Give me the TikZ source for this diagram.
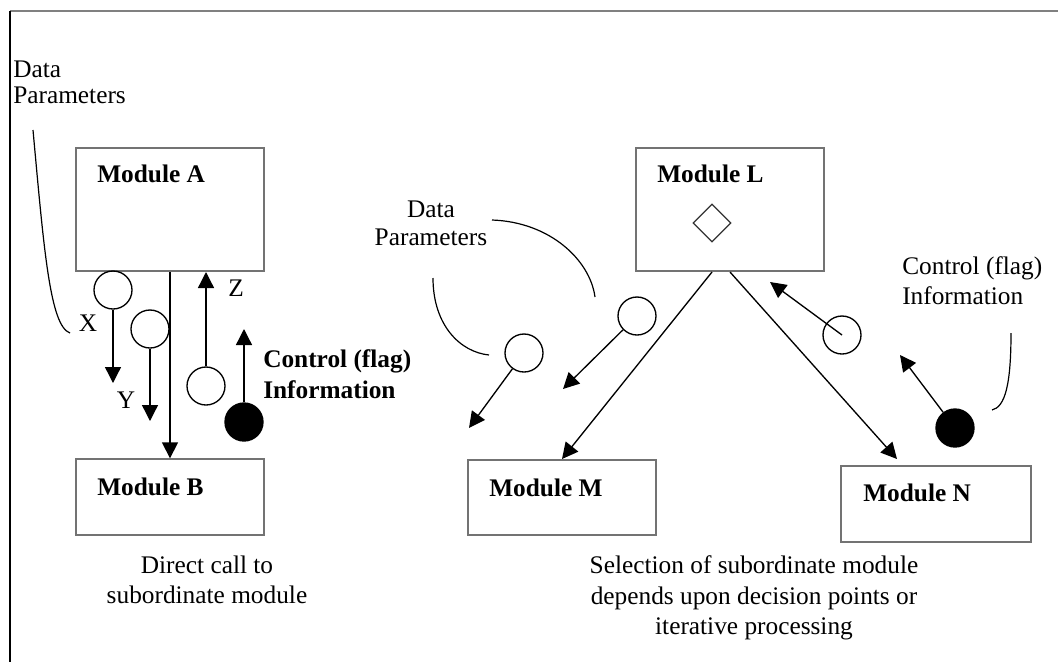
\documentclass[tikz,border=0pt]{standalone}
\usepackage{fontspec}
\setmainfont{Liberation Serif}
\usetikzlibrary{arrows.meta,shapes.geometric}
\begin{document}
\begin{tikzpicture}[x=0.75pt,y=-0.75pt,
  box/.style={draw=black!55, line width=1.5pt, rectangle, inner sep=0pt, minimum width=141pt},
  tall/.style={box, minimum height=92.25pt},
  short/.style={box, minimum height=56.5pt},
  txt/.style={font=\fontsize{19pt}{22pt}\selectfont, inner sep=0pt, anchor=base west},
  btxt/.style={txt, font=\fontsize{19pt}{22pt}\selectfont\bfseries},
  ctxt/.style={txt, anchor=base},
  bub/.style={circle, draw=black, line width=1pt, minimum size=28.5pt, inner sep=0pt},
  fbub/.style={bub, fill=black},
  arr/.style={draw=black, line width=1pt, -{Triangle[length=12pt,width=12pt]}},
  thin/.style={draw=black, line width=0.9pt},
  frame/.style={line width=1.5pt}
]
\useasboundingbox (0,0) rectangle (1058,662);
% outer frame
\draw[frame, black!50] (10,11) -- (1058,11);
\draw[frame, black] (10,11) -- (10,662);

% ---------- left part ----------
\node[tall] (A) at (170,209.5) {};
\node[btxt] (Alab) at (97,182) {Module A};
\node[short] (B) at (170,497) {};
\node[btxt] (Blab) at (97,495) {Module B};
\draw[arr] (A.south) -- (B.north);

\node[bub] (cX) at (113,290) {};
\coordinate (tX) at (113,383);
\draw[arr] (cX.south) -- (tX);
\node[ctxt, anchor=center] (lX) at (88,323) {X};

\node[bub] (cY) at (150,329) {};
\coordinate (tY) at (150,421);
\draw[arr] (cY.south) -- (tY);
\node[ctxt, anchor=center] (lY) at (126,400) {Y};

\node[bub] (cZ) at (206,386) {};
\draw[arr] (cZ.north) -- (cZ.north |- A.south);
\node[ctxt, anchor=center] (lZ) at (236,288) {Z};

\node[fbub] (cF) at (244,422) {};
\coordinate (tF) at (244,329);
\draw[arr] (cF.north) -- (tF);
\node[btxt] (ctl1) at (263,367) {Control (flag)};
\node[btxt] (ctl2) at (263,398) {Information};

\node[txt] (dp1) at (13,77) {Data};
\node[txt] (dp2) at (13,103) {Parameters};
\draw[thin] (33,130) .. controls (44,250) and (50,326) .. (70,333);

\node[ctxt] (dc1) at (207,573) {Direct call to};
\node[ctxt] (dc2) at (207,603) {subordinate module};

% ---------- right part ----------
\node[tall] (L) at (730,209.5) {};
\node[btxt] (Llab) at (657,182) {Module L};
\node[diamond, draw=black!80, line width=0.9pt, minimum width=28.5pt, minimum height=28.5pt, inner sep=0pt] (D) at (712,223) {};

\node[short, minimum height=56.25pt] (M) at (562,497.5) {};
\node[btxt] (Mlab) at (489,496) {Module M};
\node[short, minimum width=142.5pt, minimum height=57pt] (N) at (936,504) {};
\node[btxt] (Nlab) at (863,501) {Module N};

\draw[arr] (D.south |- L.south) -- (M.north);
\coordinate (tN) at (897,459);
\draw[arr] (L.south) -- (tN);

\node[bub] (cD1) at (637,316) {};
\coordinate (tD1) at (563,389);
\draw[arr] (cD1) -- (tD1);
\node[bub] (cD2) at (524,353) {};
\coordinate (tD2) at (469,428);
\draw[arr] (cD2) -- (tD2);
\node[ctxt] (rdp1) at (431,217) {Data};
\node[ctxt] (rdp2) at (431,245) {Parameters};
\draw[thin] (492,220) .. controls (550,222) and (590,260) .. (595,297);
\draw[thin] (433,278) .. controls (433,325) and (460,352) .. (489,355);

\node[bub] (cC) at (842,335) {};
\coordinate (tC) at (770,282);
\draw[arr] (cC.center) -- (tC);
\node[fbub] (cG) at (955,428) {};
\coordinate (tG) at (900,355);
\draw[arr] (cG) -- (tG);
\node[txt] (rc1) at (902,274) {Control (flag)};
\node[txt] (rc2) at (902,304) {Information};
\draw[thin] (1011,333) .. controls (1011,385) and (1005,407) .. (992,410);

\node[ctxt] (s1) at (754,573) {Selection of subordinate module};
\node[ctxt] (s2) at (754,604) {depends upon decision points or};
\node[ctxt] (s3) at (754,634) {iterative processing};
\end{tikzpicture}
\end{document}
